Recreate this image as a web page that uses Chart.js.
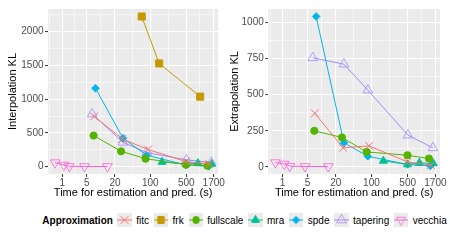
<!DOCTYPE html>
<html>
<head>
<meta charset="utf-8">
<script src="https://cdn.jsdelivr.net/npm/chart.js@4.4.0/dist/chart.umd.min.js"></script>
<style>
  body { margin: 0; background: #fff; width: 450px; height: 241px; overflow: hidden; position: relative;
         font-family: "Liberation Sans", Arial, sans-serif; }
  .panel { position: absolute; top: 0; width: 225px; height: 200px; }
  #legend { position: absolute; left: 42.3px; top: 213.3px; height: 14px; display: flex; align-items: center;
            font-size: 10px; color: #000; white-space: nowrap; }
  #legend b { margin-right: 4.6px; font-size: 10px; }
  #legend canvas { width: 14.4px; height: 14px; margin-right: 4.4px; }
  #legend span { margin-right: 4.8px; }
</style>
</head>
<body>
<div class="panel" style="left:0"><canvas id="interp"></canvas></div>
<div class="panel" style="left:225px"><canvas id="extrap"></canvas></div>
<div id="legend"><b>Approximation</b></div>
<script>
// time for estimation and prediction (s), per method
var fitcTime = [7.3, 28, 90, 495, 1400];
var frkTime = [68, 149, 930];
var fullscaleTime = [7.1, 26.5, 81, 495, 1280];
var mraTime = [170, 495, 840, 1550];
var spdeTime = [7.8, 29, 85, 495, 1360];
var taperingTime = [6.6, 29, 85, 505, 1520];
var vecchiaTime = [0.46, 1.15, 1.75, 4.4, 14];

// interpolation KL
var fitcInterp = [744, 412, 255, 75, 40];
var frkInterp = [2222, 1528, 1037];
var fullscaleInterp = [461, 228, 119, 30, 15];
var mraInterp = [70, 40, 50, 40];
var spdeInterp = [1161, 421, 170, 25, 5];
var taperingInterp = [780, 360, 210, 100, 65];
var vecchiaInterp = [60, 25, 5, 3, 3];

// extrapolation KL (no frk points in this panel)
var fitcExtrap = [371, 132, 146, 35, 12];
var frkExtrap = [];
var fullscaleExtrap = [250, 204, 104, 81, 58];
var mraExtrap = [42, 17, 28, 24];
var spdeExtrap = [1041, 167, 74, 17, 7];
var taperingExtrap = [755, 711, 532, 220, 132];
var vecchiaExtrap = [30, 20, 5, 3, 3];

var methods = ['fitc', 'frk', 'fullscale', 'mra', 'spde', 'tapering', 'vecchia'];
var timeTicks = [1, 5, 20, 100, 500, 1700];
var interpTicks = [0, 500, 1000, 1500, 2000];
var extrapTicks = [0, 250, 500, 750, 1000];

var times = { fitc: fitcTime, frk: frkTime, fullscale: fullscaleTime, mra: mraTime,
              spde: spdeTime, tapering: taperingTime, vecchia: vecchiaTime };
var interpVals = { fitc: fitcInterp, frk: frkInterp, fullscale: fullscaleInterp, mra: mraInterp,
                   spde: spdeInterp, tapering: taperingInterp, vecchia: vecchiaInterp };
var extrapVals = { fitc: fitcExtrap, frk: frkExtrap, fullscale: fullscaleExtrap, mra: mraExtrap,
                   spde: spdeExtrap, tapering: taperingExtrap, vecchia: vecchiaExtrap };

var styles = {
  fitc:      { color: '#F8766D', pointStyle: 'crossRot', radius: 5.5, fill: false, bw: 1 },
  frk:       { color: '#C49A00', pointStyle: 'rect', radius: 5, fill: true, bw: 1 },
  fullscale: { color: '#53B400', pointStyle: 'circle', radius: 3.6, fill: true, bw: 1 },
  mra:       { color: '#00C094', pointStyle: 'triangle', radius: 4.6, fill: true, bw: 1 },
  spde:      { color: '#00B6EB', pointStyle: 'rectRot', radius: 3.8, fill: true, bw: 1 },
  tapering:  { color: '#A58AFF', pointStyle: 'triangle', radius: 5.6, fill: false, bw: 0.8 },
  vecchia:   { color: '#FB61D7', pointStyle: 'triangle', radius: 5.6, fill: false, bw: 0.8, rotation: 180 }
};

// x axis is log10(t + 1)
function toX(t) { return Math.log10(t + 1); }
var xMin = 0.027, xMax = 3.319;

Chart.defaults.font.family = "'Liberation Sans', Arial, sans-serif";

function makeTicks(majors, labels, min, max) {
  var out = [];
  var bd = majors[1] - majors[0];
  var ext = [majors[0] - bd].concat(majors, [majors[majors.length - 1] + bd]);
  for (var i = 0; i < ext.length - 1; i++) {
    var mid = (ext[i] + ext[i + 1]) / 2;
    if (mid >= min && mid <= max) out.push({ value: mid, minor: true, txt: '' });
  }
  majors.forEach(function (v, i) {
    if (v >= min && v <= max) out.push({ value: v, minor: false, txt: String(labels[i]) });
  });
  out.sort(function (a, b) { return a.value - b.value; });
  return out;
}

var gridOpts = {
  color: '#fff',
  lineWidth: function (c) { return c.tick && c.tick.minor ? 0.55 : 1.1; },
  tickColor: function (c) { return c.tick && c.tick.minor ? 'rgba(0,0,0,0)' : '#333'; },
  tickWidth: 1,
  tickLength: 3
};

var panelBg = {
  id: 'panelBg',
  beforeDraw: function (chart) {
    var a = chart.chartArea, c = chart.ctx;
    c.save();
    c.fillStyle = '#EBEBEB';
    c.fillRect(a.left, a.top, a.right - a.left, a.bottom - a.top);
    c.restore();
  }
};

function buildDatasets(vals) {
  return methods.map(function (m) {
    var s = styles[m];
    return {
      label: m,
      data: vals[m].map(function (v, i) { return { x: toX(times[m][i]), y: v }; }),
      borderColor: s.color,
      borderWidth: 1,
      pointStyle: s.pointStyle,
      pointRotation: s.rotation || 0,
      pointRadius: s.radius,
      pointBorderWidth: s.bw,
      pointBorderColor: s.color,
      pointBackgroundColor: s.fill ? s.color : 'rgba(0,0,0,0)',
      tension: 0,
      fill: false
    };
  });
}

function makeChart(id, vals, yTicks, yTitle, yWidth, rightPad, titlePad) {
  var all = [];
  methods.forEach(function (m) { all = all.concat(vals[m]); });
  var lo = Math.min.apply(null, all), hi = Math.max.apply(null, all);
  var yMin = lo - 0.05 * (hi - lo), yMax = hi + 0.05 * (hi - lo);
  return new Chart(document.getElementById(id), {
    type: 'line',
    data: { datasets: buildDatasets(vals) },
    options: {
      responsive: true,
      maintainAspectRatio: false,
      animation: false,
      layout: { padding: { top: 9, right: rightPad, left: 0, bottom: 0 } },
      plugins: { legend: { display: false }, tooltip: { enabled: false } },
      scales: {
        x: {
          type: 'linear', min: xMin, max: xMax,
          afterBuildTicks: function (s) { s.ticks = makeTicks(timeTicks.map(toX), timeTicks, xMin, xMax); },
          afterFit: function (s) { s.height = 26; },
          ticks: { autoSkip: false, maxRotation: 0, padding: 0, color: '#4D4D4D', font: { size: 10 },
                   callback: function (v, i, t) { return t[i].txt; } },
          grid: gridOpts,
          border: { display: false },
          title: { display: true, text: 'Time for estimation and pred. (s)', color: '#000',
                   font: { size: 11 }, padding: { top: 0, bottom: 0.7 } }
        },
        y: {
          type: 'linear', min: yMin, max: yMax,
          afterBuildTicks: function (s) { s.ticks = makeTicks(yTicks, yTicks, yMin, yMax); },
          afterFit: function (s) { s.width = yWidth; },
          ticks: { autoSkip: false, padding: 1.5, color: '#4D4D4D', font: { size: 10 },
                   callback: function (v, i, t) { return t[i].txt; } },
          grid: gridOpts,
          border: { display: false },
          title: { display: true, text: yTitle, color: '#000', font: { size: 11 },
                   padding: { top: titlePad, bottom: 0 } }
        }
      }
    },
    plugins: [panelBg]
  });
}

makeChart('interp', interpVals, interpTicks, 'Interpolation KL', 48, 5.5, 6.7);
makeChart('extrap', extrapVals, extrapTicks, 'Extrapolation KL', 43.3, 10, 3.4);

// legend keys
var legend = document.getElementById('legend');
methods.forEach(function (m) {
  var s = styles[m];
  var cv = document.createElement('canvas');
  cv.width = 15; cv.height = 14;
  var c = cv.getContext('2d');
  c.fillStyle = '#EBEBEB';
  c.fillRect(0, 0, 15, 14);
  c.strokeStyle = s.color;
  c.lineWidth = 1;
  c.beginPath(); c.moveTo(0, 7); c.lineTo(15, 7); c.stroke();
  c.fillStyle = s.fill ? s.color : 'rgba(0,0,0,0)';
  c.lineWidth = s.bw;
  Chart.helpers.drawPoint(c, { pointStyle: s.pointStyle, rotation: s.rotation || 0,
                               radius: s.radius, borderWidth: s.bw }, 7.5, 7);
  var txt = document.createElement('span');
  txt.textContent = m;
  legend.appendChild(cv);
  legend.appendChild(txt);
});
</script>
</body>
</html>
